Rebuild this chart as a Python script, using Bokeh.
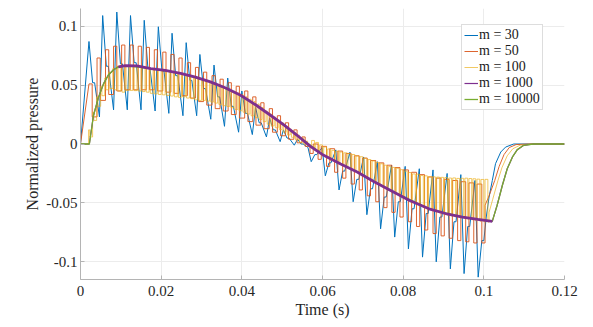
from bokeh.plotting import figure
from bokeh.models import Range1d, FixedTicker, Legend, LegendItem
from bokeh.embed import file_html
from bokeh.resources import INLINE

# ---------------- data ----------------
LABELS = ["m = 30", "m = 50", "m = 100", "m = 1000", "m = 10000"]
COLORS = ["#0072BD", "#D95319", "#EDB120", "#7E2F8E", "#77AC30"]

X_TICKS = [0, 0.02, 0.04, 0.06, 0.08, 0.1, 0.12]
X_TICK_LABELS = ["0", "0.02", "0.04", "0.06", "0.08", "0.1", "0.12"]
Y_TICKS = [-0.1, -0.05, 0, 0.05, 0.1]
Y_TICK_LABELS = ["-0.1", "-0.05", "0", "0.05", "0.1"]

# m = 30 : step edges, value before edge, value after edge, kink value
m30_edge_t = [0.0021, 0.0055, 0.0090, 0.0124, 0.0158, 0.0193, 0.0227, 0.0262, 0.0296, 0.0331,
              0.0365, 0.0400, 0.0434, 0.0469, 0.0503, 0.0538, 0.0572, 0.0607, 0.0641, 0.0676,
              0.0710, 0.0744, 0.0779, 0.0813, 0.0848, 0.0882, 0.0917, 0.0951, 0.0986]
m30_pre = [0.0, 0.023, 0.029, 0.029, 0.029, 0.028, 0.026, 0.024, 0.024, 0.021,
           0.015, 0.010, 0.008, 0.006, 0.002, -0.001, -0.003, -0.003, -0.005, -0.007,
           -0.011, -0.015, -0.018, -0.019, -0.021, -0.022, -0.025, -0.026, -0.031]
m30_ext = [0.087, 0.109, 0.112, 0.109, 0.105, 0.0995, 0.094, 0.086, 0.076, 0.067,
           0.056, 0.045, 0.031, 0.022, 0.012, 0.004, -0.015, -0.027, -0.039, -0.049,
           -0.060, -0.072, -0.079, -0.089, -0.096, -0.100, -0.106, -0.110, -0.113]
m30_mid = [0.052, 0.066, 0.068, 0.069, 0.065, 0.062, 0.058, 0.054, 0.047, 0.040,
           0.032, 0.026, 0.018, 0.012, 0.005, 0.000, -0.009, -0.016, -0.023, -0.030,
           -0.038, -0.045, -0.049, -0.055, -0.059, -0.062, -0.066, -0.070, -0.082]
m30_tail_t = [0.1006, 0.1013, 0.1021, 0.1029, 0.1042, 0.1054, 0.1074, 0.12]
m30_tail_v = [-0.062, -0.045, -0.031, -0.0167, -0.0068, -0.0026, 0.0, 0.0]

# m = 50 : step edges, value right after edge, value held afterwards
m50_edge_t = [0.0021, 0.0041, 0.0062, 0.0082, 0.0102, 0.0123, 0.0143, 0.0163, 0.0183, 0.0204,
              0.0224, 0.0244, 0.0265, 0.0285, 0.0305, 0.0326, 0.0346, 0.0366, 0.0386, 0.0407,
              0.0427, 0.0447, 0.0468, 0.0488, 0.0508, 0.0529, 0.0549, 0.0569, 0.0589, 0.0610,
              0.0630, 0.0650, 0.0671, 0.0691, 0.0711, 0.0732, 0.0752, 0.0772, 0.0792, 0.0813,
              0.0833, 0.0853, 0.0874, 0.0894, 0.0914, 0.0935, 0.0955, 0.0975, 0.0995]
m50_ext = [0.051, 0.073, 0.080, 0.083, 0.084, 0.084, 0.083, 0.082, 0.080, 0.078,
           0.076, 0.073, 0.069, 0.065, 0.061, 0.058, 0.055, 0.052, 0.049, 0.045,
           0.040, 0.035, 0.030, 0.024, 0.018, 0.012, 0.006, -0.008, -0.013, -0.019,
           -0.024, -0.029, -0.034, -0.039, -0.044, -0.049, -0.054, -0.058, -0.062, -0.066,
           -0.070, -0.073, -0.076, -0.078, -0.080, -0.082, -0.083, -0.084, -0.084]
m50_rest = [0.023, 0.037, 0.042, 0.045, 0.046, 0.046, 0.046, 0.046, 0.045, 0.044,
            0.043, 0.041, 0.039, 0.036, 0.033, 0.030, 0.028, 0.025, 0.022, 0.019,
            0.016, 0.013, 0.010, 0.007, 0.004, 0.001, -0.002, 0.000, -0.002, -0.004,
            -0.006, -0.008, -0.010, -0.012, -0.014, -0.016, -0.018, -0.020, -0.022, -0.024,
            -0.026, -0.028, -0.029, -0.030, -0.031, -0.032, -0.033, -0.034, -0.052]
m50_tail_t = [0.1013, 0.1027, 0.1038, 0.1050, 0.1063, 0.1080, 0.1110, 0.12]
m50_tail_v = [-0.044, -0.031, -0.019, -0.009, -0.003, -0.0005, 0.0, 0.0]

# m = 100 : one step every millisecond from t = 0.002 s
m100_edge_t = [round(0.002 + 0.001 * i, 4) for i in range(100)]
m100_ext = [0.012, 0.027, 0.040, 0.049, 0.056, 0.061, 0.064, 0.066, 0.066, 0.0655,
            0.0655, 0.0653, 0.065, 0.0645, 0.064, 0.063, 0.0625, 0.062, 0.0617, 0.0612,
            0.0607, 0.060, 0.0595, 0.059, 0.058, 0.057, 0.056, 0.0555, 0.055, 0.054,
            0.053, 0.0518, 0.0505, 0.049, 0.048, 0.0466, 0.0447, 0.0432, 0.042, 0.040,
            0.038, 0.036, 0.034, 0.031, 0.028, 0.0255, 0.023, 0.0205, 0.018, 0.015,
            0.0125, 0.010, 0.0075, 0.005, 0.0025, -0.002, -0.0045, -0.007, -0.0095, -0.012,
            -0.014, -0.0155, -0.017, -0.0185, -0.020, -0.0215, -0.0235, -0.025, -0.027, -0.029,
            -0.031, -0.033, -0.035, -0.037, -0.039, -0.0405, -0.042, -0.044, -0.046, -0.048,
            -0.050, -0.051, -0.053, -0.054, -0.0555, -0.0565, -0.0575, -0.0585, -0.0595, -0.0605,
            -0.061, -0.062, -0.0625, -0.063, -0.0637, -0.0643, -0.065, -0.0655, -0.066, -0.0663]
m100_rest = [0.006, 0.020, 0.032, 0.041, 0.046, 0.047, 0.046, 0.045, 0.044, 0.0455,
             0.0455, 0.0453, 0.045, 0.0445, 0.044, 0.043, 0.0425, 0.042, 0.0417, 0.0412,
             0.0407, 0.040, 0.0395, 0.040, 0.039, 0.0385, 0.0375, 0.037, 0.037, 0.0364,
             0.0356, 0.0347, 0.0336, 0.0325, 0.0319, 0.0308, 0.0293, 0.0282, 0.027, 0.0254,
             0.0239, 0.0224, 0.0208, 0.019, 0.0168, 0.0153, 0.0138, 0.0122, 0.010, 0.0077,
             0.0057, 0.0035, 0.0015, 0.000, -0.0015, 0.003, 0.0013, -0.0008, -0.0025, -0.0042,
             -0.0054, -0.0061, -0.0068, -0.0075, -0.0082, -0.0089, -0.0101, -0.0108, -0.012, -0.0132,
             -0.0144, -0.0156, -0.0168, -0.018, -0.0192, -0.0199, -0.0206, -0.0218, -0.023, -0.0242,
             -0.0254, -0.0256, -0.0268, -0.027, -0.0277, -0.0279, -0.0281, -0.0283, -0.0285, -0.0289,
             -0.0288, -0.0292, -0.0291, -0.029, -0.0293, -0.0295, -0.0298, -0.0301, -0.030, -0.058]
m100_tail_t = [0.1022, 0.1035, 0.1045, 0.1058, 0.1072, 0.1090, 0.1120, 0.12]
m100_tail_v = [-0.047, -0.031, -0.020, -0.010, -0.004, -0.001, 0.0, 0.0]

# m = 1000 (smooth curve)
m1000_t = [0, 0.0022, 0.0032, 0.0045, 0.0057, 0.0069, 0.0082, 0.0094, 0.0111, 0.0140,
           0.0174, 0.0210, 0.0248, 0.0285, 0.0322, 0.0360, 0.0397, 0.0434, 0.0471, 0.0505,
           0.0537, 0.0570, 0.0603, 0.0645, 0.0686, 0.0728, 0.0769, 0.0816, 0.0864, 0.0905,
           0.0947, 0.0985, 0.1021, 0.1033, 0.1046, 0.1058, 0.1071, 0.1083, 0.1099, 0.1123, 0.12]
m1000_v = [0, 0, 0.024, 0.040, 0.051, 0.0585, 0.063, 0.0655, 0.0665, 0.0663,
           0.064, 0.0625, 0.060, 0.0567, 0.0527, 0.0475, 0.0414, 0.0333, 0.0244, 0.016,
           0.0074, -0.002, -0.0096, -0.017, -0.0238, -0.032, -0.0394, -0.048, -0.055, -0.059,
           -0.062, -0.064, -0.0657, -0.052, -0.035, -0.021, -0.011, -0.0048, -0.0011, 0.0, 0.0]
# interval over which the m = 1000 trace shows its fine ripple (looks thick)
M1000_RIPPLE = (0.0094, 0.1021)

# m = 10000
m10000_t = [0, 0.0022, 0.0032, 0.0045, 0.0057, 0.0069, 0.0082, 0.0094, 0.0111, 0.0174,
            0.0248, 0.0322, 0.0397, 0.0471, 0.0537, 0.0603, 0.0686, 0.0769, 0.0864, 0.0947,
            0.1021, 0.1033, 0.1046, 0.1058, 0.1071, 0.1083, 0.1099, 0.1123, 0.12]
m10000_v = [0, 0, 0.024, 0.040, 0.051, 0.0585, 0.063, 0.0655, 0.0665, 0.064,
            0.060, 0.0527, 0.0414, 0.0244, 0.0074, -0.0096, -0.0238, -0.0394, -0.055, -0.062,
            -0.0655, -0.052, -0.035, -0.021, -0.011, -0.0048, -0.0011, 0.0, 0.0]

# ---------------- build the step polylines ----------------
RISE, KINK1, KINK2 = 0.0008, 0.0009, 0.0014
m30_x, m30_y = [0.0], [0.0]
for k, t in enumerate(m30_edge_t):
    if k > 0:
        m30_x.append(t - RISE); m30_y.append(m30_pre[k])
    m30_x += [t, t + KINK1, t + KINK2]
    m30_y += [m30_ext[k], m30_mid[k], m30_mid[k]]
m30_x += m30_tail_t; m30_y += m30_tail_v


def held_steps(edges, ext, rest, hold, tail_t, tail_v, start_flat):
    xs, ys = [0.0], [0.0]
    if start_flat:
        xs.append(edges[0]); ys.append(0.0)
    for i, t in enumerate(edges):
        if i > 0:
            xs.append(t); ys.append(rest[i - 1])
        xs += [t, t + hold, t + hold]
        ys += [ext[i], ext[i], rest[i]]
    return xs + tail_t, ys + tail_v


m50_x, m50_y = held_steps(m50_edge_t, m50_ext, m50_rest, 0.0008, m50_tail_t, m50_tail_v, False)
m100_x, m100_y = held_steps(m100_edge_t, m100_ext, m100_rest, 0.0003, m100_tail_t, m100_tail_v, True)

rip = [i for i, t in enumerate(m1000_t) if M1000_RIPPLE[0] <= t <= M1000_RIPPLE[1]]
m1000_rip_t = [m1000_t[i] for i in rip]
m1000_rip_v = [m1000_v[i] for i in rip]

# ---------------- figure ----------------
FONT = "Liberation Serif"
p = figure(width=593, height=327, output_backend="svg", toolbar_location=None,
           x_range=Range1d(0, 0.12), y_range=Range1d(-0.115, 0.115),
           min_border_left=80, min_border_right=29, min_border_top=8, min_border_bottom=48)
p.outline_line_color = None
p.background_fill_color = "white"

r30 = p.line(m30_x, m30_y, line_color=COLORS[0], line_width=1)
r50 = p.line(m50_x, m50_y, line_color=COLORS[1], line_width=0.9)
r100 = p.line(m100_x, m100_y, line_color=COLORS[2], line_width=0.7)
r1000 = p.line(m1000_t, m1000_v, line_color=COLORS[3], line_width=1.2)
r10000 = p.line(m10000_t, m10000_v, line_color=COLORS[4], line_width=1.3)
p.line(m1000_rip_t, m1000_rip_v, line_color=COLORS[3], line_width=2.8)

for ax in (p.xaxis[0], p.yaxis[0]):
    ax.axis_line_color = "#b4b4b4"
    ax.major_tick_line_color = "#b4b4b4"
    ax.major_tick_in = 4
    ax.major_tick_out = 0
    ax.minor_tick_line_color = None
    ax.major_label_text_font = FONT
    ax.major_label_text_font_size = "15px"
    ax.major_label_text_color = "#262626"
    ax.axis_label_text_font = FONT
    ax.axis_label_text_font_size = "16px"
    ax.axis_label_text_font_style = "normal"
    ax.axis_label_text_color = "#262626"

p.xaxis.ticker = FixedTicker(ticks=X_TICKS)
p.xaxis.major_label_overrides = dict(zip(X_TICKS, X_TICK_LABELS))
p.yaxis.ticker = FixedTicker(ticks=Y_TICKS)
p.yaxis.major_label_overrides = dict(zip(Y_TICKS, Y_TICK_LABELS))
p.xaxis.axis_label = "Time (s)"
p.yaxis.axis_label = "Normalized pressure"
p.xaxis.major_label_standoff = 6
p.xaxis.axis_label_standoff = 2
p.yaxis.major_label_standoff = 3
p.yaxis.axis_label_standoff = 2

p.xgrid.grid_line_color = "#ececec"
p.ygrid.grid_line_color = "#ececec"

legend = Legend(items=[LegendItem(label=LABELS[0], renderers=[r30]),
                       LegendItem(label=LABELS[1], renderers=[r50]),
                       LegendItem(label=LABELS[2], renderers=[r100]),
                       LegendItem(label=LABELS[3], renderers=[r1000]),
                       LegendItem(label=LABELS[4], renderers=[r10000])],
                location=(381, 169), margin=0, padding=2, spacing=0,
                glyph_width=14, glyph_height=14, label_height=14, label_standoff=1,
                label_text_font=FONT, label_text_font_size="14px",
                label_text_color="#1a1a1a", border_line_color="#bcbcbc",
                background_fill_color="white", background_fill_alpha=1.0)
p.add_layout(legend)

open("out.html", "w").write(file_html(p, INLINE))
